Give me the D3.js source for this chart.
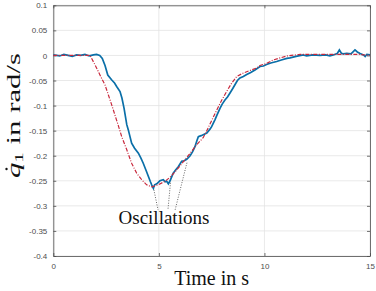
<!DOCTYPE html>
<html>
<head>
<meta charset="utf-8">
<script src="https://cdn.jsdelivr.net/npm/d3@7"></script>
<style>
  body { margin: 0; background: #fff; }
  .tick text { font-family: "Liberation Sans", Arial, sans-serif; font-size: 8px; fill: #4d4d4d; }
  .lbl { font-family: "Liberation Serif", "DejaVu Serif", serif; fill: #111; }
</style>
</head>
<body>
<div id="chart"></div>
<script>
// measured joint velocity (blue)
const measT = [0, 0.3, 0.5, 0.7, 0.9, 1.1, 1.3, 1.5, 1.7, 1.9, 2.05, 2.2, 2.32, 2.45, 2.58, 2.77, 2.9, 3.0, 3.16, 3.25, 3.35, 3.48, 3.55, 3.71, 3.85, 4.03, 4.15, 4.26, 4.4, 4.5, 4.6, 4.66, 4.74, 4.8, 4.9, 5.05, 5.21, 5.3, 5.37, 5.45, 5.53, 5.68, 5.8, 5.92, 6.08, 6.2, 6.32, 6.48, 6.6, 6.71, 6.8, 6.87, 7.0, 7.1, 7.27, 7.42, 7.5, 7.66, 7.74, 7.9, 8.0, 8.13, 8.25, 8.37, 8.5, 8.61, 8.72, 8.84, 9.0, 9.16, 9.35, 9.55, 9.79, 9.95, 10.1, 10.3, 10.58, 10.8, 11.06, 11.21, 11.5, 11.84, 12.0, 12.3, 12.63, 12.9, 13.1, 13.26, 13.45, 13.55, 13.65, 13.74, 13.9, 14.1, 14.29, 14.4, 14.53, 14.69, 14.77, 14.85, 15];
const measV = [0.001, -0.001, 0.002, 0, -0.002, 0.001, 0, 0.002, -0.001, 0.001, 0.002, 0, -0.006, -0.02, -0.039, -0.049, -0.055, -0.062, -0.072, -0.085, -0.105, -0.138, -0.148, -0.175, -0.185, -0.195, -0.205, -0.215, -0.23, -0.241, -0.252, -0.258, -0.265, -0.258, -0.256, -0.25, -0.248, -0.252, -0.251, -0.256, -0.25, -0.235, -0.228, -0.222, -0.211, -0.21, -0.207, -0.2, -0.192, -0.182, -0.17, -0.162, -0.16, -0.158, -0.155, -0.147, -0.142, -0.128, -0.12, -0.105, -0.097, -0.089, -0.083, -0.075, -0.066, -0.058, -0.05, -0.045, -0.042, -0.038, -0.034, -0.029, -0.022, -0.021, -0.018, -0.015, -0.012, -0.009, -0.006, -0.005, -0.002, 0.001, -0.001, 0.001, 0, 0.001, -0.001, 0.001, 0.004, 0.011, 0.004, 0.003, 0.004, 0.003, 0.011, 0.007, 0.004, 0.001, -0.002, 0.002, 0.001];

// reference trajectory (red dash-dot)
const refT = [0, 1.74, 1.98, 2.21, 2.45, 2.61, 2.77, 2.92, 3.08, 3.24, 3.48, 3.71, 3.95, 4.19, 4.42, 4.66, 4.97, 5.29, 5.53, 5.85, 6.16, 6.48, 6.79, 7.1, 7.27, 7.5, 7.74, 7.98, 8.21, 8.45, 8.69, 9.0, 9.32, 9.63, 9.79, 10.1, 10.42, 11.06, 11.69, 12.5, 13.5, 14.5, 15];
const refV = [0, 0, -0.019, -0.039, -0.059, -0.079, -0.099, -0.119, -0.14, -0.162, -0.188, -0.215, -0.235, -0.248, -0.258, -0.262, -0.258, -0.251, -0.243, -0.228, -0.212, -0.195, -0.178, -0.164, -0.15, -0.13, -0.109, -0.089, -0.072, -0.055, -0.042, -0.035, -0.03, -0.025, -0.02, -0.016, -0.009, -0.001, 0.002, 0.002, 0.002, 0.002, 0];

const xTicks = [0, 5, 10, 15];
const yTicks = [0.1, 0.05, 0, -0.05, -0.1, -0.15, -0.2, -0.25, -0.3, -0.35, -0.4];

// annotation: points on the curve and where the dotted lines end near the text
const oscFrom = [[4.74, -0.263], [5.55, -0.254], [6.33, -0.214]];
const oscTo = [[4.96, -0.308], [5.43, -0.308], [5.77, -0.308]];
const oscLabel = { t: 5.24, v: -0.336, text: 'Oscillations' };

const width = 376, height = 291;
const margin = { top: 5.3, right: 6, bottom: 35, left: 53.3 };
const w = width - margin.left - margin.right;
const h = height - margin.top - margin.bottom;

const svg = d3.select('#chart').append('svg')
    .attr('width', width)
    .attr('height', height);

const g = svg.append('g')
    .attr('transform', `translate(${margin.left},${margin.top})`);

const x = d3.scaleLinear().domain([0, 15]).range([0, w]);
const y = d3.scaleLinear().domain([-0.4, 0.1]).range([h, 0]);

// gridlines
g.append('g')
    .selectAll('line')
    .data(xTicks)
    .join('line')
    .attr('x1', d => x(d)).attr('x2', d => x(d))
    .attr('y1', 0).attr('y2', h)
    .attr('stroke', '#e3e3e3').attr('stroke-width', 0.8);
g.append('g')
    .selectAll('line')
    .data(yTicks)
    .join('line')
    .attr('x1', 0).attr('x2', w)
    .attr('y1', d => y(d)).attr('y2', d => y(d))
    .attr('stroke', '#e3e3e3').attr('stroke-width', 0.8);

// axes (ticks inward, MATLAB style)
const fmt = d => d === 0 ? '0' : String(d);
g.append('g')
    .attr('transform', `translate(0,${h})`)
    .call(d3.axisBottom(x).tickValues(xTicks).tickFormat(fmt).tickSizeInner(-3).tickSizeOuter(0).tickPadding(7));
g.append('g')
    .call(d3.axisLeft(y).tickValues(yTicks).tickFormat(fmt).tickSizeInner(-3).tickSizeOuter(0).tickPadding(6));
g.append('g')
    .attr('transform', `translate(${w},0)`)
    .call(d3.axisRight(y).tickValues(yTicks).tickFormat('').tickSizeInner(-3).tickSizeOuter(0));
g.append('g')
    .call(d3.axisTop(x).tickValues(xTicks).tickFormat('').tickSizeInner(-3).tickSizeOuter(0));
g.selectAll('.domain').attr('stroke', '#4d4d4d').attr('stroke-width', 0.8);
g.selectAll('.tick line').attr('stroke', '#4d4d4d').attr('stroke-width', 0.8);

const line = d3.line()
    .x(d => x(d[0]))
    .y(d => y(d[1]));

const refData = refT.map((t, i) => [t, refV[i]]);
const measData = measT.map((t, i) => [t, measV[i]]);

// annotation dotted lines
g.append('g')
    .selectAll('line')
    .data(oscFrom)
    .join('line')
    .attr('x1', d => x(d[0])).attr('y1', d => y(d[1]))
    .attr('x2', (d, i) => x(oscTo[i][0])).attr('y2', (d, i) => y(oscTo[i][1]))
    .attr('stroke', '#555').attr('stroke-width', 0.9)
    .attr('stroke-dasharray', '1,1.5');

g.append('path')
    .datum(measData)
    .attr('d', line)
    .attr('fill', 'none')
    .attr('stroke', '#0a6fa8')
    .attr('stroke-width', 1.7);

g.append('path')
    .datum(refData)
    .attr('d', line)
    .attr('fill', 'none')
    .attr('stroke', '#c8283c')
    .attr('stroke-width', 1.2)
    .attr('stroke-dasharray', '4,1.5,1,1.5');

g.append('text')
    .attr('class', 'lbl')
    .attr('x', x(oscLabel.t))
    .attr('y', y(oscLabel.v))
    .attr('text-anchor', 'middle')
    .style('font-size', '19px')
    .text(oscLabel.text);

// axis labels
svg.append('text')
    .attr('class', 'lbl')
    .attr('x', margin.left + w / 2)
    .attr('y', 285)
    .attr('text-anchor', 'middle')
    .style('font-size', '20px')
    .text('Time in s');

const ylg = svg.append('g')
    .attr('transform', 'translate(20,178) rotate(-90)');
const yl = ylg.append('text')
    .attr('class', 'lbl')
    .attr('x', 0)
    .attr('y', 0)
    .attr('textLength', 125)
    .attr('lengthAdjust', 'spacingAndGlyphs')
    .style('font-size', '19px');
yl.append('tspan').style('font-style', 'italic').text('q');
yl.append('tspan').attr('dy', 3).style('font-size', '13px').text('1');
yl.append('tspan').attr('dy', -3).text(' in rad/s');
// dot above q (time derivative)
ylg.append('circle')
    .attr('cx', 9)
    .attr('cy', -13.5)
    .attr('r', 1.2)
    .attr('fill', '#111');
</script>
</body>
</html>
